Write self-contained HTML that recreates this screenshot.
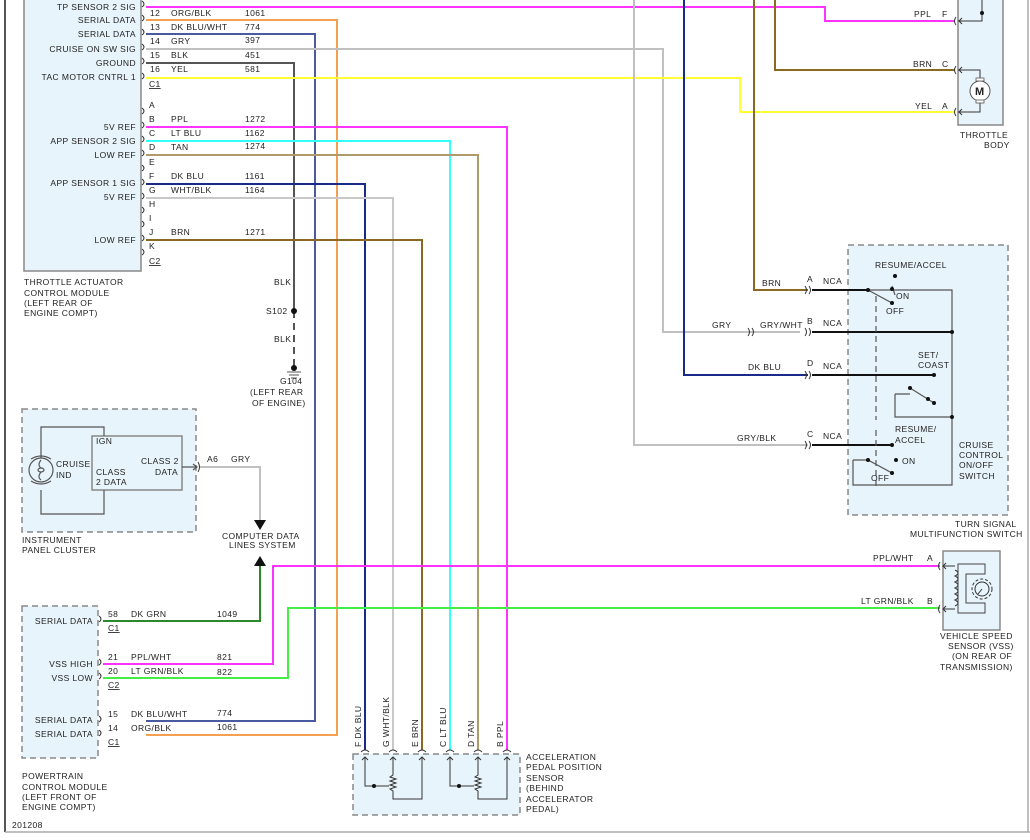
<!DOCTYPE html>
<html><head><meta charset="utf-8"><style>
html,body{margin:0;padding:0;background:#fff}
svg{display:block}
text{font-family:"Liberation Sans",sans-serif;font-size:8.5px;fill:#222;letter-spacing:0.4px}
.w{fill:none;stroke-width:2}
.k{fill:none;stroke:#444;stroke-width:1.2}
.c{fill:none;stroke:#333;stroke-width:1}
.box{fill:#e8f4fb;stroke:#888;stroke-width:1.5}
.dbox{fill:#e8f4fb;stroke:#888;stroke-width:1.5;stroke-dasharray:6,4}
</style></head><body>
<svg width="1030" height="840" viewBox="0 0 1030 840">
<!-- frame -->
<line x1="5" y1="0" x2="5" y2="832" stroke="#555" stroke-width="2"/>
<line x1="5" y1="832" x2="1030" y2="832" stroke="#aaa" stroke-width="1.5"/>
<line x1="1028" y1="0" x2="1028" y2="832" stroke="#aaa" stroke-width="1.5"/>
<text x="12" y="828">201208</text>

<!-- boxes -->
<rect class="box" x="24" y="-5" width="117" height="276"/>
<rect class="box" x="958" y="-5" width="45" height="130"/>
<rect class="dbox" x="848" y="245" width="160" height="270"/>
<rect class="dbox" x="22" y="409" width="174" height="123"/>
<rect class="box" x="92" y="436" width="90" height="54"/>
<rect class="dbox" x="22" y="606" width="76" height="152"/>
<rect class="box" x="943" y="551" width="57" height="79"/>
<rect class="dbox" x="353" y="754" width="167" height="61"/>

<!-- TAC wires C1 -->
<path class="w" stroke="#ff33ff" d="M146,7 H825 V21 H955"/>
<path class="w" stroke="#f5a050" d="M146,20 H337 V735 H146"/>
<path class="w" stroke="#4a5aa0" d="M146,34 H315 V721 H146"/>
<path class="w" stroke="#c0c0c0" d="M146,49 H663 V332 H800"/>
<path class="w" stroke="#555" d="M146,63 H294 V311"/>
<path stroke="#555" stroke-width="2" stroke-dasharray="7,5" d="M294,311 V368"/>
<path class="w" stroke="#ffff33" d="M146,78 H740 V112 H955"/>
<!-- TAC C2 wires -->
<path class="w" stroke="#ff33ff" d="M146,127 H507 V750"/>
<path class="w" stroke="#33ffff" d="M146,141 H450 V750"/>
<path class="w" stroke="#b09a6a" d="M146,155 H478 V750"/>
<path class="w" stroke="#1a2a8a" d="M146,184 H365 V750"/>
<path class="w" stroke="#c8c8c8" d="M146,198 H393 V750"/>
<path class="w" stroke="#8a6a20" d="M146,240 H422 V750"/>
<!-- top right verticals -->
<path class="w" stroke="#c0c0c0" d="M634,0 V445 H808"/>
<path class="w" stroke="#1a2a8a" d="M684,0 V375 H808"/>
<path class="w" stroke="#8a6a20" d="M754,0 V290 H808"/>
<path class="w" stroke="#8a6a20" d="M775,0 V70 H955"/>
<!-- IPC gry -->
<path class="w" stroke="#c0c0c0" d="M200,467 H260 V520"/>
<polygon points="254,520 266,520 260,530" fill="#111"/>
<polygon points="254,566 266,566 260,556" fill="#111"/>
<!-- PCM wires -->
<path class="w" stroke="#2a8a2a" d="M103,621 H260 V566"/>
<path class="w" stroke="#ff33ff" stroke-width="1.5" fill="none" d="M103,664 H273 V566 H940"/>
<path class="w" stroke="#44ee44" d="M103,678 H288 V608 H940"/>

<!-- TAC connector brackets -->
<g class="c">
<path d="M142,1 q4,3 0,6 M142,15 q4,3 0,6 M142,29 q4,3 0,6 M142,44 q4,3 0,6 M142,58 q4,3 0,6 M142,73 q4,3 0,6"/>
<path d="M142,108 q4,3 0,6 M142,122 q4,3 0,6 M142,136 q4,3 0,6 M142,150 q4,3 0,6 M142,165 q4,3 0,6 M142,179 q4,3 0,6 M142,193 q4,3 0,6 M142,207 q4,3 0,6 M142,221 q4,3 0,6 M142,235 q4,3 0,6 M142,249 q4,3 0,6"/>
<path d="M99,616 q4,3 0,6 M99,659 q4,3 0,6 M99,673 q4,3 0,6 M99,716 q4,3 0,6 M99,730 q4,3 0,6"/>
</g>
<!-- TAC labels -->
<g text-anchor="end">
<text x="136" y="10">TP SENSOR 2 SIG</text>
<text x="136" y="23">SERIAL DATA</text>
<text x="136" y="37">SERIAL DATA</text>
<text x="136" y="52">CRUISE ON SW SIG</text>
<text x="136" y="66">GROUND</text>
<text x="136" y="80">TAC MOTOR CNTRL 1</text>
<text x="136" y="130">5V REF</text>
<text x="136" y="144">APP SENSOR 2 SIG</text>
<text x="136" y="158">LOW REF</text>
<text x="136" y="186">APP SENSOR 1 SIG</text>
<text x="136" y="200">5V REF</text>
<text x="136" y="243">LOW REF</text>
</g>
<g>
<text x="150" y="-1">11</text><text x="171" y="-1">PPL</text><text x="245" y="-1">480</text>
<text x="150" y="16">12</text><text x="171" y="16">ORG/BLK</text><text x="245" y="16">1061</text>
<text x="150" y="30">13</text><text x="171" y="30">DK BLU/WHT</text><text x="245" y="30">774</text>
<text x="150" y="44">14</text><text x="171" y="44">GRY</text><text x="245" y="43">397</text>
<text x="150" y="58">15</text><text x="171" y="58">BLK</text><text x="245" y="58">451</text>
<text x="150" y="72">16</text><text x="171" y="72">YEL</text><text x="245" y="72">581</text>
<text x="149" y="87" text-decoration="underline">C1</text>
<text x="149" y="108">A</text>
<text x="149" y="122">B</text><text x="171" y="122">PPL</text><text x="245" y="122">1272</text>
<text x="149" y="136">C</text><text x="171" y="136">LT BLU</text><text x="245" y="136">1162</text>
<text x="149" y="150">D</text><text x="171" y="150">TAN</text><text x="245" y="149">1274</text>
<text x="149" y="165">E</text>
<text x="149" y="179">F</text><text x="171" y="179">DK BLU</text><text x="245" y="179">1161</text>
<text x="149" y="193">G</text><text x="171" y="193">WHT/BLK</text><text x="245" y="193">1164</text>
<text x="149" y="207">H</text>
<text x="149" y="221">I</text>
<text x="149" y="235">J</text><text x="171" y="235">BRN</text><text x="245" y="235">1271</text>
<text x="149" y="249">K</text>
<text x="149" y="264" text-decoration="underline">C2</text>
<text x="24" y="285">THROTTLE ACTUATOR</text>
<text x="24" y="296">CONTROL MODULE</text>
<text x="24" y="306">(LEFT REAR OF</text>
<text x="24" y="316">ENGINE COMPT)</text>
</g>
<!-- S102 / G104 -->
<text x="274" y="285">BLK</text>
<circle cx="294" cy="311" r="3" fill="#111"/>
<text x="266" y="314">S102</text>
<text x="274" y="342">BLK</text>
<circle cx="294" cy="368" r="3" fill="#111"/>
<path d="M287,372 h14 M289,375 h10 M291,378 h6" stroke="#555" stroke-width="1"/>
<text x="280" y="384">G104</text>
<text x="250" y="395">(LEFT REAR</text>
<text x="252" y="406">OF ENGINE)</text>

<!-- Throttle body -->
<text x="914" y="17">PPL</text><text x="942" y="17">F</text>
<text x="913" y="67">BRN</text><text x="942" y="67">C</text>
<text x="915" y="109">YEL</text><text x="942" y="109">A</text>
<g class="c">
<path d="M956,17 q-3,4 0,8 M956,66 q-3,4 0,8 M956,108 q-3,4 0,8"/>
<path d="M958,21 h24 V0 M958,70 h22 v10 M958,112 h22 v-10"/>
<path d="M962,18 l-3,3 l3,3 M962,67 l-3,3 l3,3 M962,109 l-3,3 l3,3"/>
</g>
<circle cx="982" cy="13" r="2" fill="#111"/>
<circle cx="980" cy="91" r="10" fill="#fff" stroke="#555"/>
<rect x="976" y="78" width="8" height="3" fill="#fff" stroke="#555" stroke-width=".8"/>
<rect x="976" y="100" width="8" height="3" fill="#fff" stroke="#555" stroke-width=".8"/>
<text x="975" y="95" style="font-size:11px;font-weight:bold">M</text>
<text x="960" y="138">THROTTLE</text>
<text x="984" y="148">BODY</text>

<!-- cruise switch -->
<g class="c">
<path d="M805,286 q3,4 0,8 M809,286 q3,4 0,8 M805,328 q3,4 0,8 M809,328 q3,4 0,8 M805,371 q3,4 0,8 M809,371 q3,4 0,8 M805,441 q3,4 0,8 M809,441 q3,4 0,8"/>
<path d="M748,328 q3,4 0,8 M752,328 q3,4 0,8"/>
</g>
<path d="M812,290 H868 M812,332 H952 M812,375 H934 M812,445 H892" stroke="#111" stroke-width="2" fill="none"/>
<g stroke="#555" stroke-width="1.2" fill="none">
<path d="M868,290 H952 V485 H853 V460"/>
<path d="M868,290 L892,303 M895,295 L892,286"/>
<path d="M876,430 V486" stroke-dasharray="6,4"/>
<path d="M876,296 V420" stroke-dasharray="6,4"/>
<path d="M853,460 H868 L892,473"/>
<path d="M895,394 V417 H952 M910,388 L934,403 M895,394 H910"/>
</g>
<g fill="#111">
<circle cx="868" cy="290" r="2"/><circle cx="892" cy="303" r="2"/><circle cx="892" cy="289" r="2"/><circle cx="895" cy="276" r="2"/>
<circle cx="952" cy="332" r="2"/><circle cx="934" cy="375" r="2"/><circle cx="910" cy="388" r="2"/><circle cx="928" cy="399" r="2"/><circle cx="934" cy="403" r="2"/><circle cx="952" cy="417" r="2"/>
<circle cx="892" cy="445" r="2"/><circle cx="868" cy="460" r="2"/><circle cx="892" cy="473" r="2"/><circle cx="896" cy="460" r="2"/>
</g>
<text x="762" y="286">BRN</text><text x="807" y="282">A</text><text x="823" y="284">NCA</text>
<text x="712" y="328">GRY</text><text x="760" y="328">GRY/WHT</text><text x="807" y="324">B</text><text x="823" y="326">NCA</text>
<text x="748" y="370">DK BLU</text><text x="807" y="366">D</text><text x="823" y="369">NCA</text>
<text x="737" y="441">GRY/BLK</text><text x="807" y="437">C</text><text x="823" y="439">NCA</text>
<text x="875" y="268">RESUME/ACCEL</text>
<text x="896" y="299">ON</text><text x="886" y="314">OFF</text>
<text x="918" y="358">SET/</text><text x="918" y="368">COAST</text>
<text x="895" y="432">RESUME/</text><text x="895" y="443">ACCEL</text>
<text x="902" y="464">ON</text><text x="871" y="481">OFF</text>
<text x="959" y="448">CRUISE</text><text x="959" y="458">CONTROL</text><text x="959" y="468">ON/OFF</text><text x="959" y="479">SWITCH</text>
<text x="955" y="527">TURN SIGNAL</text>
<text x="910" y="537">MULTIFUNCTION SWITCH</text>

<!-- IPC -->
<g stroke="#555" stroke-width="1.2" fill="none">
<path d="M41,458 V427 H104 V436 M41,490 V514 H104 V490"/>
<path d="M182,467 H197 M193,464 l4,3 l-4,3"/>
<circle cx="41" cy="470" r="12"/>
<path d="M31,459 q10,-6 20,0 M31,481 q10,6 20,0"/>
<ellipse cx="41" cy="470" rx="3" ry="2"/>
<path d="M41,460 q-4,5 0,8 M41,472 q-4,5 0,8"/>
</g>
<path d="M198,462 q3,5 0,10" stroke="#333" fill="none"/>
<text x="56" y="467">CRUISE</text><text x="56" y="478">IND</text>
<text x="96" y="444">IGN</text>
<text x="96" y="475">CLASS</text><text x="96" y="485">2 DATA</text>
<text x="141" y="464">CLASS 2</text><text x="155" y="475">DATA</text>
<text x="207" y="462">A6</text><text x="231" y="462">GRY</text>
<text x="22" y="543">INSTRUMENT</text><text x="22" y="553">PANEL CLUSTER</text>
<text x="222" y="539">COMPUTER DATA</text><text x="229" y="548">LINES SYSTEM</text>

<!-- PCM -->
<g text-anchor="end">
<text x="93" y="624">SERIAL DATA</text>
<text x="93" y="667">VSS HIGH</text>
<text x="93" y="681">VSS LOW</text>
<text x="93" y="723">SERIAL DATA</text>
<text x="93" y="737">SERIAL DATA</text>
</g>
<text x="108" y="617">58</text><text x="131" y="617">DK GRN</text><text x="217" y="617">1049</text>
<text x="108" y="631" text-decoration="underline">C1</text>
<text x="108" y="660">21</text><text x="131" y="660">PPL/WHT</text><text x="217" y="660">821</text>
<text x="108" y="674">20</text><text x="131" y="674">LT GRN/BLK</text><text x="217" y="675">822</text>
<text x="108" y="688" text-decoration="underline">C2</text>
<text x="108" y="717">15</text><text x="131" y="717">DK BLU/WHT</text><text x="217" y="716">774</text>
<text x="108" y="731">14</text><text x="131" y="731">ORG/BLK</text><text x="217" y="730">1061</text>
<text x="108" y="745" text-decoration="underline">C1</text>
<text x="22" y="779">POWERTRAIN</text><text x="22" y="790">CONTROL MODULE</text><text x="22" y="800">(LEFT FRONT OF</text><text x="22" y="810">ENGINE COMPT)</text>

<!-- VSS -->
<text x="873" y="561">PPL/WHT</text><text x="927" y="561">A</text>
<text x="861" y="604">LT GRN/BLK</text><text x="927" y="604">B</text>
<g class="c">
<path d="M940,562 q-3,4 0,8 M940,605 q-3,4 0,8"/>
<path d="M946,563 l-3,3 l3,3 M946,606 l-3,3 l3,3"/>
<path d="M943,566 H955 M943,609 H955"/>
<path d="M958,564 H985 V574 H966 V603 H985 V613 H958 Z" stroke="#444"/>
<path d="M955,570 q6,3 0,6 q6,3 0,6 q6,3 0,6 q6,3 0,6 q6,3 0,6 q6,3 0,6"/>
<circle cx="982" cy="589" r="10" stroke-dasharray="3,2"/>
<circle cx="982" cy="589" r="7"/>
<path d="M982,589 l-4,5"/>
</g>
<text x="940" y="639">VEHICLE SPEED</text>
<text x="948" y="649">SENSOR (VSS)</text>
<text x="952" y="659">(ON REAR OF</text>
<text x="940" y="670">TRANSMISSION)</text>

<!-- APP -->
<g text-anchor="start" font-size="8.5">
<text transform="translate(361,747) rotate(-90)">F  DK BLU</text>
<text transform="translate(389,747) rotate(-90)">G  WHT/BLK</text>
<text transform="translate(418,747) rotate(-90)">E  BRN</text>
<text transform="translate(446,747) rotate(-90)">C  LT BLU</text>
<text transform="translate(474,747) rotate(-90)">D  TAN</text>
<text transform="translate(503,747) rotate(-90)">B  PPL</text>
</g>
<g class="c">
<path d="M361,752 q4,-4 8,0 M389,752 q4,-4 8,0 M418,752 q4,-4 8,0 M446,752 q4,-4 8,0 M474,752 q4,-4 8,0 M503,752 q4,-4 8,0"/>
<path d="M362,760 l3,-3 l3,3 M390,760 l3,-3 l3,3 M419,760 l3,-3 l3,3 M447,760 l3,-3 l3,3 M475,760 l3,-3 l3,3 M504,760 l3,-3 l3,3"/>
<path d="M365,757 V786 H389 M393,757 V775 l-3,2 l6,2 l-6,2 l6,2 l-6,2 l6,2 l-6,2 l3,2 V799 H422 V757"/>
<path d="M450,757 V786 H474 M478,757 V775 l-3,2 l6,2 l-6,2 l6,2 l-6,2 l6,2 l-6,2 l3,2 V799 H507 V757"/>
</g>
<circle cx="374" cy="786" r="2" fill="#111"/><circle cx="459" cy="786" r="2" fill="#111"/>
<text x="526" y="760">ACCELERATION</text>
<text x="526" y="770">PEDAL POSITION</text>
<text x="526" y="781">SENSOR</text>
<text x="526" y="791">(BEHIND</text>
<text x="526" y="802">ACCELERATOR</text>
<text x="526" y="812">PEDAL)</text>
</svg>
</body></html>
